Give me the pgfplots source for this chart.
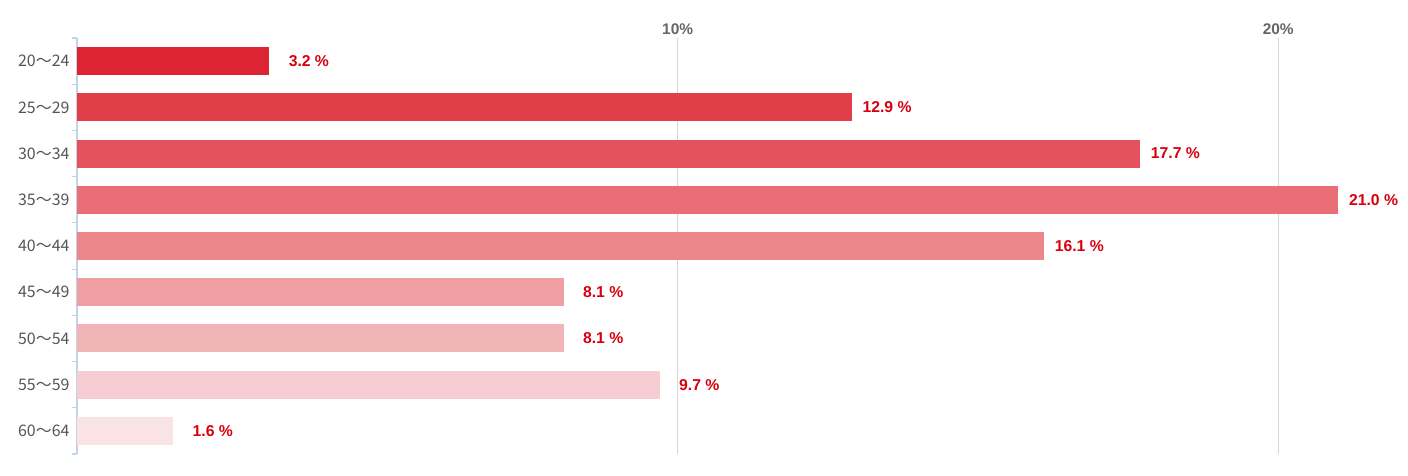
\documentclass[border=0pt]{standalone}
\usepackage{fontspec}
\setmainfont{Liberation Sans}
\newfontfamily\jp{Noto Sans CJK JP}
\usepackage{pgfplots}
\pgfplotsset{compat=1.18}
\definecolor{c1}{HTML}{DC2433}
\definecolor{c2}{HTML}{E03E48}
\definecolor{c3}{HTML}{E4535D}
\definecolor{c4}{HTML}{E96E75}
\definecolor{c5}{HTML}{EC868B}
\definecolor{c6}{HTML}{EF9FA2}
\definecolor{c7}{HTML}{F2B5B7}
\definecolor{c8}{HTML}{F6CDD3}
\definecolor{c9}{HTML}{FAE3E5}
\definecolor{valred}{HTML}{D7000F}
\definecolor{tickgray}{HTML}{666666}
\definecolor{catgray}{HTML}{555555}
\definecolor{axblue}{HTML}{C3D4E8}
\definecolor{gridgray}{HTML}{D6D6D6}
\begin{document}
\begin{tikzpicture}
\path (0,0) rectangle (1408bp,476bp);
\begin{axis}[
  at={(77bp,22bp)}, anchor=south west,
  scale only axis,
  width=1331bp, height=416bp,
  xmin=0, xmax=22.16,
  ymin=-0.5, ymax=8.5,
  y dir=reverse,
  xbar, bar width=28bp,
  axis x line*=top,
  axis y line*=left,
  x axis line style={draw=none},
  y axis line style={draw=axblue, line width=1.2bp},
  xtick={10,20},
  xticklabels={10\%,20\%},
  xticklabel style={font=\bfseries\fontsize{15.5}{17}\selectfont, text=tickgray},
  xmajorgrids,
  major grid style={draw=gridgray, line width=1.5bp},
  ytick={0,1,2,3,4,5,6,7,8},
  yticklabels={20〜24,25〜29,30〜34,35〜39,40〜44,45〜49,50〜54,55〜59,60〜64},
  yticklabel style={font=\jp\fontsize{16}{18}\selectfont, text=catgray, xshift=-4bp},
  minor ytick={-0.5,0.5,1.5,2.5,3.5,4.5,5.5,6.5,7.5,8.5},
  major tick length=0pt,
  minor tick length=5bp,
  tick align=outside,
  tick style={draw=axblue, line width=1.2bp},
  point meta=x,
  nodes near coords={\pgfmathprintnumber[fixed,fixed zerofill,precision=1,assume math mode=true]{\pgfplotspointmeta} \%},
  every node near coord/.append style={anchor=east, inner sep=0pt, xshift=60bp, text=valred, font=\bfseries\fontsize{15.8}{17}\selectfont},
  clip=false,
]
\addplot[fill=c1, draw=none, bar shift=0pt] coordinates {(3.2,0)};
\addplot[fill=c2, draw=none, bar shift=0pt] coordinates {(12.9,1)};
\addplot[fill=c3, draw=none, bar shift=0pt] coordinates {(17.7,2)};
\addplot[fill=c4, draw=none, bar shift=0pt] coordinates {(21.0,3)};
\addplot[fill=c5, draw=none, bar shift=0pt] coordinates {(16.1,4)};
\addplot[fill=c6, draw=none, bar shift=0pt] coordinates {(8.1,5)};
\addplot[fill=c7, draw=none, bar shift=0pt] coordinates {(8.1,6)};
\addplot[fill=c8, draw=none, bar shift=0pt] coordinates {(9.7,7)};
\addplot[fill=c9, draw=none, bar shift=0pt] coordinates {(1.6,8)};
\end{axis}
\end{tikzpicture}
\end{document}
